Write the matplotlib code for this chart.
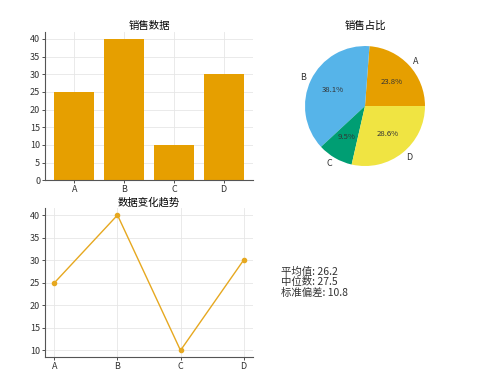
import numpy as np
import matplotlib
matplotlib.use('Agg')
import matplotlib.pyplot as plt

plt.rcParams['font.family'] = ['Noto Sans CJK SC', 'DejaVu Sans']
plt.rcParams['axes.unicode_minus'] = False

# data
categories = ['A', 'B', 'C', 'D']
values = [25, 40, 10, 30]
pie_colors = ['#E69F00', '#56B4E9', '#009E73', '#F0E442']
bar_color = '#E69F00'

title_bar = '销售数据'
title_pie = '销售占比'
title_line = '数据变化趋势'
stat_names = ['平均值', '中位数', '标准偏差']

mean_v = np.mean(values)
median_v = np.median(values)
std_v = np.std(values)

fig = plt.figure(figsize=(5, 3.74), dpi=100)

def style_ax(ax):
    ax.grid(True, color='#e6e6e6', linewidth=0.6)
    ax.set_axisbelow(True)
    for s in ['top', 'right']:
        ax.spines[s].set_visible(False)
    for s in ['left', 'bottom']:
        ax.spines[s].set_color('#555555')
        ax.spines[s].set_linewidth(0.8)
    ax.tick_params(labelsize=6.5, colors='#333333', length=2, width=0.6, pad=1.5)

# bar chart
ax1 = fig.add_axes([0.09, 0.518, 0.416, 0.397])
ax1.bar(categories, values, color=bar_color, width=0.8)
ax1.set_ylim(0, 42)
ax1.set_yticks(np.arange(0, 41, 5))
style_ax(ax1)
ax1.set_title(title_bar, fontsize=7.5, pad=2)

# pie chart
ax2 = fig.add_axes([0.58, 0.516, 0.3, 0.401])
wedges, labels, pcts = ax2.pie(values, labels=categories, colors=pie_colors,
                               autopct='%1.1f%%')
for t in labels:
    t.set_fontsize(6.5)
    t.set_color('#333333')
for t in pcts:
    t.set_fontsize(5.6)
    t.set_color('#333333')
ax2.set_title(title_pie, fontsize=7.5, pad=1)

# line chart
ax3 = fig.add_axes([0.09, 0.045, 0.416, 0.398])
ax3.plot(categories, values, color='#E6A820', marker='o', markersize=3, linewidth=1.0)
ax3.set_yticks(np.arange(10, 41, 5))
style_ax(ax3)
ax3.set_title(title_line, fontsize=7.5, pad=2)

# stats text
txt = '%s: %.1f\n%s: %.1f\n%s: %.1f' % (stat_names[0], mean_v,
                                          stat_names[1], median_v,
                                          stat_names[2], std_v)
fig.text(0.562, 0.245, txt, fontsize=7.5, color='#333333', va='center',
         linespacing=1.05)

fig.savefig('out.png', dpi=100)
